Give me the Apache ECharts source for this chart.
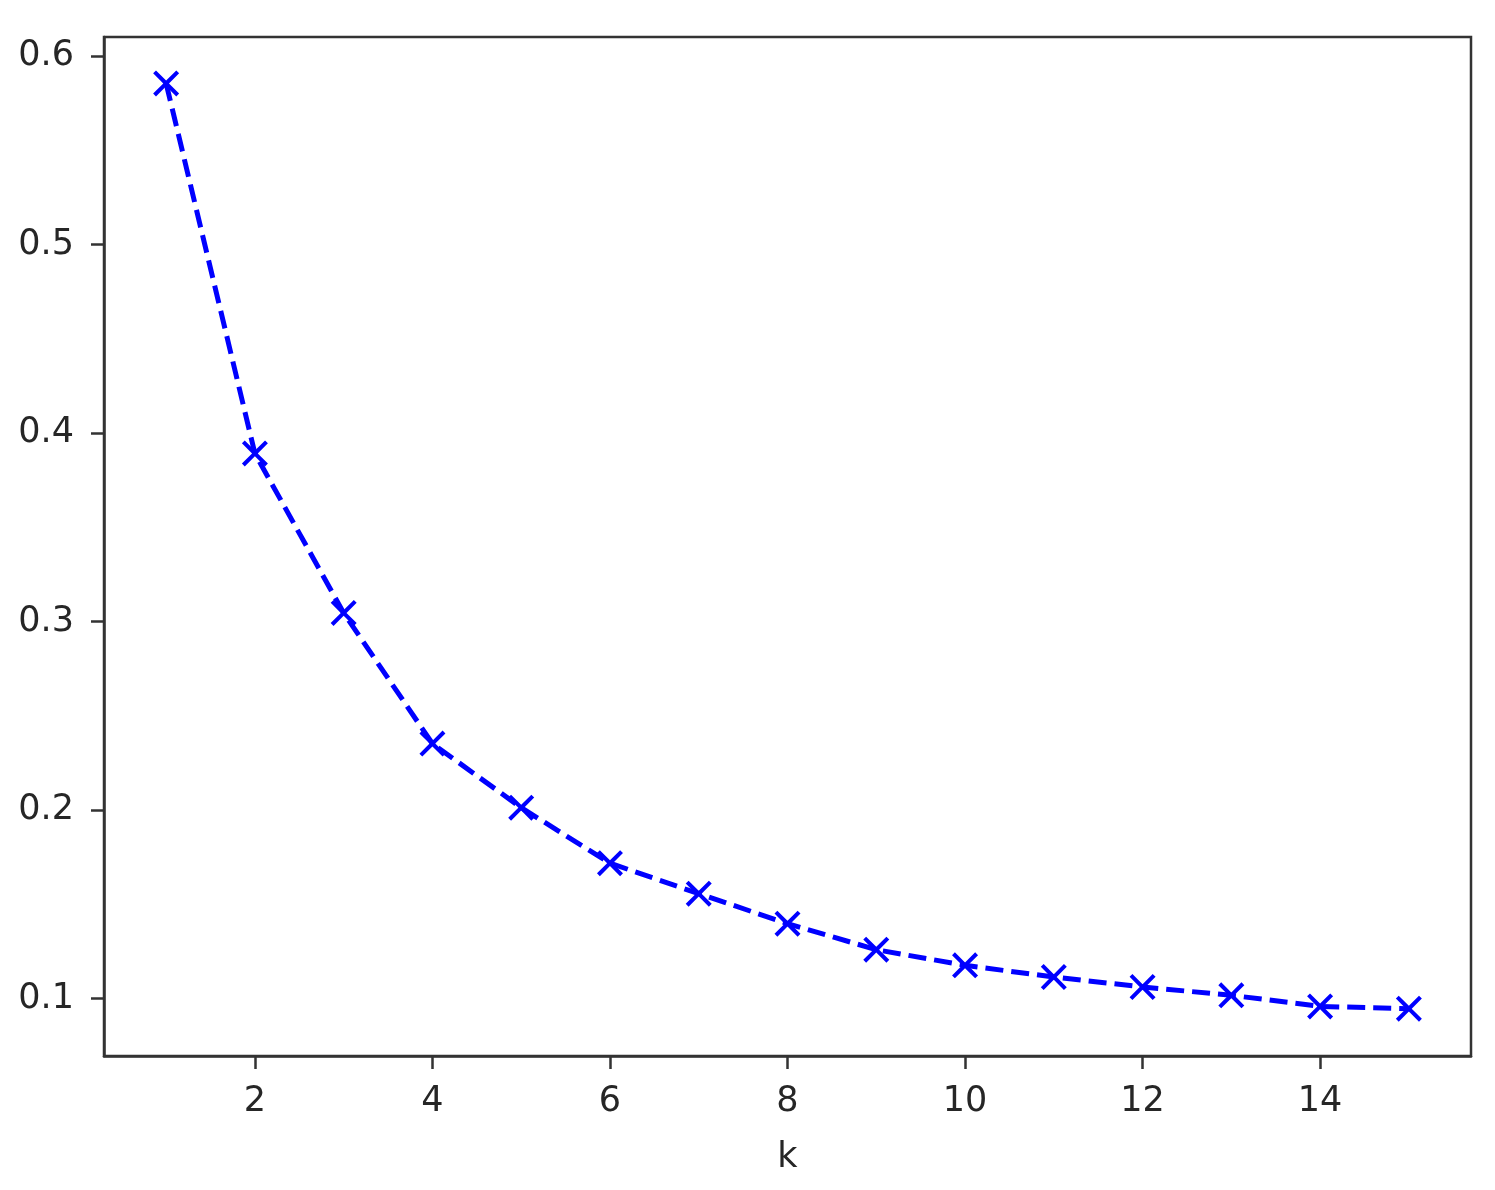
<!DOCTYPE html>
<html>
<head>
<meta charset="utf-8">
<script src="https://cdn.jsdelivr.net/npm/echarts@6/dist/echarts.min.js"></script>
<style>
html,body{margin:0;padding:0;background:#fff;}
#chart{width:1495px;height:1190px;}
</style>
</head>
<body>
<div id="chart"></div>
<script>
const kValues = [1, 2, 3, 4, 5, 6, 7, 8, 9, 10, 11, 12, 13, 14, 15];
const scores = [0.5855, 0.3892, 0.3046, 0.2353, 0.2013, 0.1719, 0.1557, 0.1398, 0.1260, 0.1177, 0.1115, 0.1062, 0.1018, 0.0959, 0.0947];
const xTicks = [2, 4, 6, 8, 10, 12, 14];
const yTicks = [0.1, 0.2, 0.3, 0.4, 0.5, 0.6];
const xName = 'k';

const chart = echarts.init(document.getElementById('chart'), null, {renderer: 'canvas'});
const textColor = '#262626';
const axisColor = '#333333';
const font = 'DejaVu Sans';
const xMarker = 'path://M0,11 L11,0 L50,39 L89,0 L100,11 L61,50 L100,89 L89,100 L50,61 L11,100 L0,89 L39,50 Z';

chart.setOption({
  animation: false,
  backgroundColor: '#ffffff',
  grid: {
    left: 104, right: 24, top: 37, bottom: 134,
    show: true, borderColor: axisColor, borderWidth: 2.5,
    backgroundColor: 'transparent',
    outerBoundsMode: 'none',
    containLabel: false
  },
  xAxis: {
    type: 'value',
    min: 0.3, max: 15.7,
    name: xName,
    nameLocation: 'middle',
    nameGap: 84,
    nameTextStyle: {color: textColor, fontSize: 35, fontFamily: font},
    axisLine: {show: true, onZero: false, lineStyle: {color: axisColor, width: 2.5}},
    axisTick: {show: true, length: 13, inside: false, customValues: xTicks, lineStyle: {color: axisColor, width: 2.5}},
    axisLabel: {show: true, customValues: xTicks, margin: 28, color: textColor, fontSize: 35, fontFamily: font,
      formatter: v => String(v)},
    splitLine: {show: false}
  },
  yAxis: {
    type: 'value',
    min: 0.0696, max: 0.6101,
    axisLine: {show: true, onZero: false, lineStyle: {color: axisColor, width: 2.5}},
    axisTick: {show: true, length: 13, inside: false, customValues: yTicks, lineStyle: {color: axisColor, width: 2.5}},
    axisLabel: {show: true, customValues: yTicks, margin: 30, color: textColor, fontSize: 35, fontFamily: font,
      formatter: v => v.toFixed(1)},
    splitLine: {show: false}
  },
  series: [{
    type: 'line',
    data: kValues.map((k, i) => [k, scores[i]]),
    symbol: xMarker,
    symbolSize: 26,
    showAllSymbol: true,
    itemStyle: {color: '#0000ff', borderWidth: 0},
    lineStyle: {color: '#0000ff', width: 5, type: [18, 8]},
    smooth: false,
    silent: true,
    z: 3
  }]
});
</script>
</body>
</html>
